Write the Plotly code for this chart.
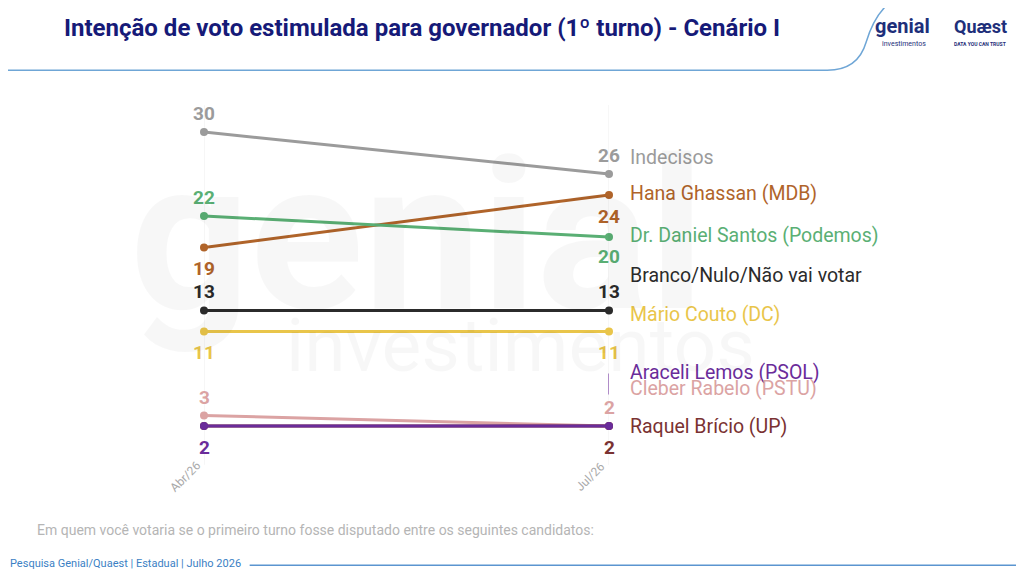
import plotly.graph_objects as go

periods = ["Abr/26", "Jul/26"]
names = ["Indecisos", "Hana Ghassan (MDB)", "Dr. Daniel Santos (Podemos)", "Branco/Nulo/Não vai votar",
         "Mário Couto (DC)", "Araceli Lemos (PSOL)", "Cleber Rabelo (PSTU)", "Raquel Brício (UP)"]
abr = [30, 19, 22, 13, 11, 2, 3, 2]
jul = [26, 24, 20, 13, 11, 2, 2, 2]
colors = ["#9b9b9b", "#b0642a", "#5aaf74", "#2b2b2b", "#e9c54a", "#6a2c9a", "#dba3a3", "#7a3232"]
label_y = [27.6, 24.1, 20.1, 16.3, 12.6, 7.05, 5.6, 2.0]
abr_lab_y = [31.8, 17.0, 23.8, 14.8, 9.0, None, 4.7, 0.0]
jul_lab_y = [27.8, 22.0, 18.1, 14.8, 9.0, None, 3.8, 0.0]

fig = go.Figure()
order = [0, 1, 2, 3, 4, 6, 7, 5]
for i in order:
    fig.add_trace(go.Scatter(x=[0, 1], y=[abr[i], jul[i]], mode="lines+markers",
                             line=dict(color=colors[i], width=3), marker=dict(size=8, color=colors[i]),
                             cliponaxis=False, showlegend=False, hoverinfo="skip"))
ann = []
for i in range(len(names)):
    ann.append(dict(x=1, y=label_y[i], xref="x", yref="y", text=names[i], showarrow=False,
                    xanchor="left", xshift=19, font=dict(size=19.5, color=colors[i], family="Roboto")))
    lab_col = colors[5] if i == 7 else colors[i]
    if abr_lab_y[i] is not None:
        ann.append(dict(x=0, y=abr_lab_y[i], text=f"<b>{abr[i]}</b>", showarrow=False,
                        font=dict(size=19, color=lab_col, family="Roboto")))
    if jul_lab_y[i] is not None:
        ann.append(dict(x=1, y=jul_lab_y[i], text=f"<b>{jul[i]}</b>", showarrow=False,
                        font=dict(size=19, color=colors[i], family="Roboto")))
for k, p in enumerate(periods):
    ann.append(dict(x=k, y=0, yref="y", text=p, showarrow=False, textangle=-45, yshift=-30, xshift=-19,
                    font=dict(size=12, color="#aaaaaa", family="Roboto")))
ann += [
    dict(x=0.053, y=0.965, xref="paper", yref="paper", xanchor="left", yanchor="middle", showarrow=False,
         text="<b>Intenção de voto estimulada para governador (1º turno) - Cenário I</b>",
         font=dict(size=24, color="#161a78", family="Roboto")),
    dict(x=0.026, y=0.086, xref="paper", yref="paper", xanchor="left", yanchor="middle", showarrow=False,
         text="Em quem você votaria se o primeiro turno fosse disputado entre os seguintes candidatos:",
         font=dict(size=14, color="#b5b5b5", family="Roboto")),
    dict(x=0.0, y=0.028, xref="paper", yref="paper", xanchor="left", yanchor="middle", showarrow=False,
         text="Pesquisa Genial/Quaest | Estadual | Julho 2026", font=dict(size=11, color="#3b7fc4", family="Roboto")),
    dict(x=0.845, y=0.968, xref="paper", yref="paper", xanchor="left", yanchor="middle", showarrow=False,
         text="<b>genial</b>", font=dict(size=20, color="#1e2f7a", family="Roboto")),
    dict(x=0.852, y=0.937, xref="paper", yref="paper", xanchor="left", yanchor="middle", showarrow=False,
         text="investimentos", font=dict(size=7, color="#1e2f7a", family="Roboto")),
    dict(x=0.922, y=0.968, xref="paper", yref="paper", xanchor="left", yanchor="middle", showarrow=False,
         text="<b>Quæst</b>", font=dict(size=18, color="#1e2f7a", family="Roboto")),
    dict(x=0.922, y=0.937, xref="paper", yref="paper", xanchor="left", yanchor="middle", showarrow=False,
         text="<b>DATA YOU CAN TRUST</b>", font=dict(size=5, color="#1e2f7a", family="Roboto")),
    dict(x=0.4, y=0.6, xref="paper", yref="paper", showarrow=False, text="<b>genial</b>",
         font=dict(size=210, color="rgba(0,0,0,0.03)", family="Roboto")),
    dict(x=0.5, y=0.33, xref="paper", yref="paper", showarrow=False, text="investimentos",
         font=dict(size=75, color="rgba(0,0,0,0.03)", family="Roboto")),
]
shapes = [
    dict(type="line", xref="x", yref="paper", x0=0, x1=0, y0=0.2, y1=0.83, line=dict(color="#eeeeee", width=1), layer="below"),
    dict(type="line", xref="x", yref="paper", x0=1, x1=1, y0=0.2, y1=0.83, line=dict(color="#eeeeee", width=1), layer="below"),
    dict(type="line", xref="x", yref="y", x0=1, x1=1, y0=7.0, y1=5.0, line=dict(color="#b08cc8", width=2)),
    dict(type="path", xref="paper", yref="paper",
         path="M 0,0.891 L 0.80,0.891 Q 0.83,0.891 0.838,0.94 Q 0.848,1.0 0.87,1.02",
         line=dict(color="#6fa6d6", width=1.5)),
    dict(type="line", xref="paper", yref="paper", x0=0.236, x1=1, y0=0.024, y1=0.024,
         line=dict(color="#5b95d0", width=1.5)),
]
fig.update_layout(width=1024, height=571, margin=dict(l=0, r=0, t=0, b=0),
                  plot_bgcolor="rgba(0,0,0,0)", paper_bgcolor="white", annotations=ann, shapes=shapes,
                  xaxis=dict(range=[0, 1], visible=False, fixedrange=True, domain=[196/1024, 601/1024]),
                  yaxis=dict(range=[0, 33.05], visible=False, fixedrange=True, domain=[132/571, 1-92/571]))
fig.write_html("out.html")
